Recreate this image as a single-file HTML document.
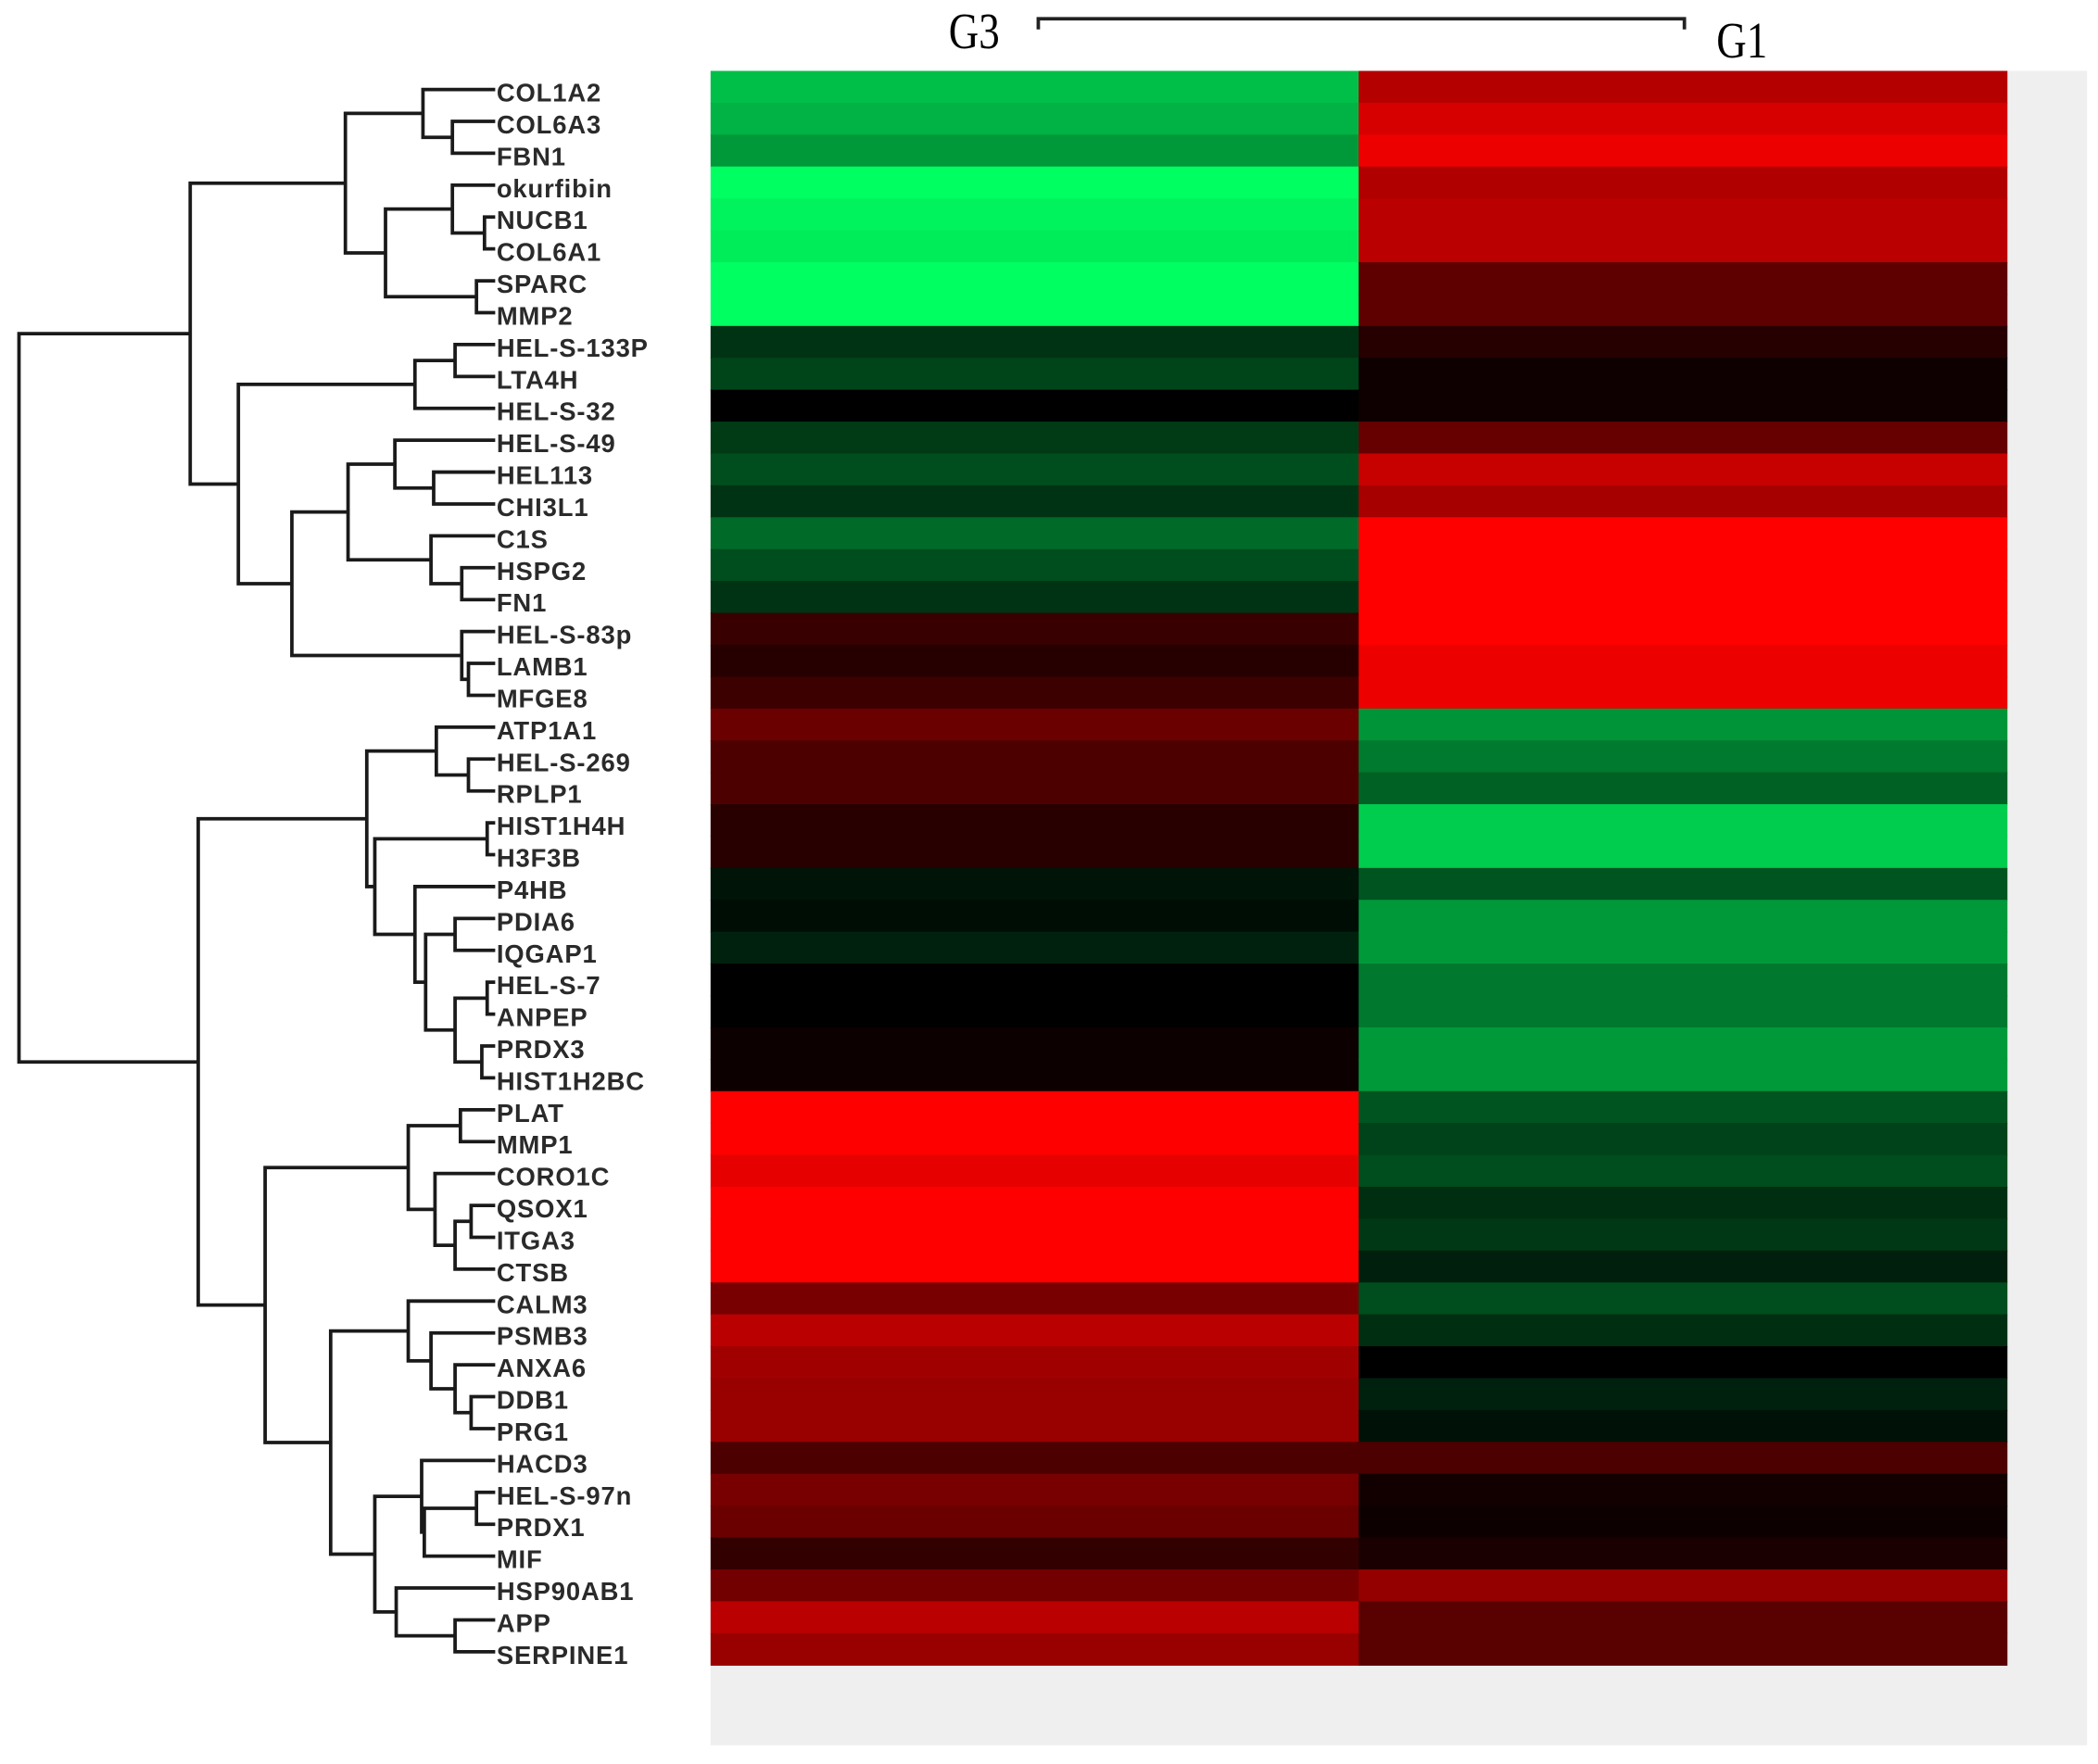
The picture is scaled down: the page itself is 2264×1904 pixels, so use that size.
<!DOCTYPE html>
<html><head><meta charset="utf-8"><style>
html,body{margin:0;padding:0;background:#fff}
svg{display:block}
</style></head><body>
<svg id="chart" width="2264" height="1904" viewBox="0 0 1568 1319" xmlns="http://www.w3.org/2000/svg">
<rect x="531" y="53" width="1029" height="1252" fill="#efefef"/>
<g id="cells"></g>
<g id="dendro" stroke="#1a1a1a" stroke-width="2.6" fill="none"></g>
<g id="labels" font-family="Liberation Sans, sans-serif" font-size="19" font-weight="bold" letter-spacing="0.6" fill="#2a2a2a"></g>
<g stroke="#222" stroke-width="2.6" fill="none">
<path d="M776 22 V14 H1259 V22"/>
</g>
<text x="709" y="36" font-family="Liberation Serif, serif" font-size="38" transform="translate(709 36) scale(0.82 1) translate(-709 -36)">G3</text>
<text x="1283" y="43" font-family="Liberation Serif, serif" font-size="38" transform="translate(1283 43) scale(0.82 1) translate(-1283 -43)">G1</text>
</svg>
<script>
const genes = ["COL1A2","COL6A3","FBN1","okurfibin","NUCB1","COL6A1","SPARC","MMP2","HEL-S-133P","LTA4H","HEL-S-32","HEL-S-49","HEL113","CHI3L1","C1S","HSPG2","FN1","HEL-S-83p","LAMB1","MFGE8","ATP1A1","HEL-S-269","RPLP1","HIST1H4H","H3F3B","P4HB","PDIA6","IQGAP1","HEL-S-7","ANPEP","PRDX3","HIST1H2BC","PLAT","MMP1","CORO1C","QSOX1","ITGA3","CTSB","CALM3","PSMB3","ANXA6","DDB1","PRG1","HACD3","HEL-S-97n","PRDX1","MIF","HSP90AB1","APP","SERPINE1"];
const columns = ["G3","G1"];
// positive = red (up), negative = green (down)
const valuesG3 = [-0.75,-0.70,-0.60,-1.0,-0.95,-0.93,-1.0,-1.0,-0.20,-0.27,0.0,-0.23,-0.30,-0.20,-0.42,-0.30,-0.20,0.22,0.15,0.24,0.42,0.30,0.30,0.16,0.16,-0.08,-0.05,-0.13,0.0,0.0,0.05,0.05,1.0,1.0,0.90,1.0,1.0,1.0,0.47,0.73,0.63,0.60,0.60,0.30,0.47,0.42,0.20,0.45,0.73,0.60];
const valuesG1 = [0.71,0.84,0.93,0.69,0.73,0.73,0.37,0.37,0.15,0.06,0.06,0.40,0.78,0.65,1.0,1.0,1.0,1.0,0.93,0.93,-0.58,-0.48,-0.38,-0.80,-0.80,-0.33,-0.60,-0.60,-0.47,-0.47,-0.60,-0.60,-0.33,-0.26,-0.30,-0.18,-0.22,-0.12,-0.30,-0.18,0.0,-0.13,-0.07,0.30,0.07,0.05,0.10,0.58,0.35,0.35];
// dendrogram merges: [leftNode, rightNode, height]; leaves are indices 0..49, merges referenced as "m<k>"
const merges = [
 [1,2,338],[0,"m0",316],[4,5,362],[3,"m2",338],[6,7,356],["m3","m4",288],["m1","m5",258],
 [8,9,340],["m7",10,310],[12,13,324],[11,"m9",295],[15,16,345],[14,"m11",322],["m10","m12",260],
 [18,19,350],[17,"m14",345],["m13","m15",218],["m8","m16",178],["m6","m17",142],
 [21,22,350],[20,"m19",326],[23,24,364],[26,27,340],[28,29,364],[30,31,360],["m23","m24",340],
 ["m22","m25",318],[25,"m26",310],["m21","m27",280],["m20","m28",274],
 [32,33,344],[35,36,352],["m31",37,340],[34,"m32",325],["m30","m33",305],
 [41,42,352],[40,"m35",340],[39,"m36",322],[38,"m37",305],
 [44,45,356],["m39",46,317],[43,"m40",315],[48,49,340],[47,"m42",296],["m41","m43",280],
 ["m38","m44",247],["m34","m45",198],["m29","m46",148],["m18","m47",14]
];
const NS="http://www.w3.org/2000/svg";
const top0=53, bot0=1245, left0=531, right0=1500;
const rowH=(bot0-top0)/genes.length, colW=(right0-left0)/columns.length;
const yScale=i=>top0+i*rowH;
const xScale=j=>left0+j*colW;
function color(v){
  const a=Math.min(1,Math.abs(v));
  if(v>=0) return `rgb(${Math.round(255*a)},0,0)`;
  const g=Math.round(255*a); return `rgb(0,${g},${Math.round(g*0.38)})`;
}
const cells=document.getElementById('cells');
const series=[valuesG3,valuesG1];
series.forEach((vals,j)=>{
  vals.forEach((v,i)=>{
    const r=document.createElementNS(NS,'rect');
    
    
    r.setAttribute('x',xScale(j));r.setAttribute('y',yScale(i));
    r.setAttribute('width',colW+0.5);r.setAttribute('height',rowH+0.5);
    r.setAttribute('fill',color(v));
    cells.appendChild(r);
  });
});
const labels=document.getElementById('labels');
genes.forEach((g,i)=>{
  const t=document.createElementNS(NS,'text');
  
  
  t.setAttribute('x',371);t.setAttribute('y',yScale(i)+rowH/2+11);
  t.textContent=g;labels.appendChild(t);
});
const leafX=370;
const dendro=document.getElementById('dendro');
const pos={};
function node(n){ if(typeof n==='number') return {x:leafX,y:yScale(n)+rowH/2+2}; return pos[n]; }
merges.forEach((m,k)=>{
  const a=node(m[0]), b=node(m[1]), h=m[2];
  const p=document.createElementNS(NS,'path');
  
  
  p.setAttribute('d',`M${a.x} ${a.y} H${h} V${b.y} H${b.x}`);
  dendro.appendChild(p);
  pos['m'+k]={x:h,y:(a.y+b.y)/2};
});
</script>
</body></html>
